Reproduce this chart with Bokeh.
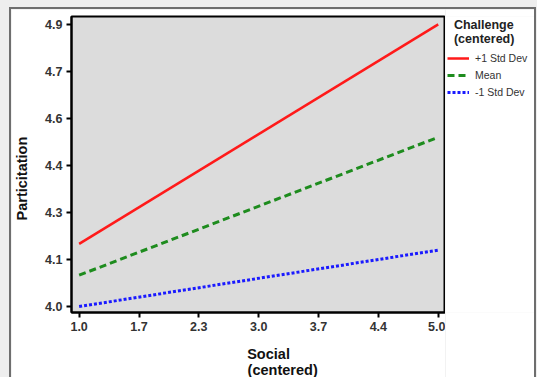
from bokeh.plotting import figure
from bokeh.models import Legend, LegendItem, FixedTicker, ColumnDataSource
from bokeh.layouts import column, row
from bokeh.embed import file_html
from bokeh.resources import INLINE

# ---- data ----
social = [1.0, 5.0]
plus1 = [4.20, 4.90]
mean = [4.10, 4.54]
minus1 = [4.00, 4.18]
series_names = ["+1 Std Dev", "Mean", "-1 Std Dev"]

x_ticks = [1.0, 1.667, 2.333, 3.0, 3.667, 4.333, 5.0]
x_tick_labels = ["1.0", "1.7", "2.3", "3.0", "3.7", "4.4", "5.0"]
y_ticks = [4.0, 4.15, 4.3, 4.45, 4.6, 4.75, 4.9]
y_tick_labels = ["4.0", "4.1", "4.3", "4.4", "4.6", "4.7", "4.9"]

FONT = "Liberation Sans"
NB = "\u00a0"
styles = [dict(line_color="#ff1a1a", line_width=2.5),
          dict(line_color="#1e8c1e", line_width=3, line_dash="7 4"),
          dict(line_color="#1a1aff", line_width=3, line_dash="3 2")]

H = 371
p = figure(width=434, height=H, output_backend="svg", toolbar_location=None,
           x_range=(0.915, 5.081), y_range=(3.981, 4.925),
           min_border_left=58, min_border_right=0, min_border_top=7, min_border_bottom=10)
p.background_fill_color = "#dcdcdc"
p.border_fill_color = "white"
p.outline_line_color = "black"
p.outline_line_width = 2
p.grid.visible = False

src = ColumnDataSource(dict(x=social, a=plus1, b=mean, c=minus1))
for col, st in zip(["a", "b", "c"], styles):
    p.line("x", col, source=src, **st)

for ax, ticks, labels in ((p.xaxis[0], x_ticks, x_tick_labels), (p.yaxis[0], y_ticks, y_tick_labels)):
    ax.ticker = FixedTicker(ticks=ticks)
    ax.major_label_overrides = {t: l for t, l in zip(ticks, labels)}
    ax.minor_tick_line_color = None
    ax.major_tick_in = 0
    ax.major_tick_out = 5
    ax.major_tick_line_width = 2
    ax.major_tick_line_color = "black"
    ax.axis_line_color = "black"
    ax.axis_line_width = 2
    ax.major_label_text_font = FONT
    ax.major_label_text_font_style = "bold"
    ax.major_label_text_font_size = "12.5px"
    ax.major_label_text_color = "#333333"
    ax.major_label_standoff = 4
    ax.axis_label_text_font = FONT
    ax.axis_label_text_font_style = "bold"
    ax.axis_label_text_font_size = "14.5px"
    ax.axis_label_text_color = "#111111"

p.yaxis.axis_label = "Particitation" + NB * 7
p.yaxis.axis_label_standoff = 12
p.xaxis.axis_label = NB * 12 + "Social" + NB * 7 + "\n" + NB * 12 + "(centered)"
p.xaxis.axis_label_standoff = 12
p.xaxis.axis_label_text_line_height = 1.0

# legend panel (lines drawn out of view; only their legend glyphs show)
q = figure(width=523 - 434, height=H, output_backend="svg", toolbar_location=None,
           min_border=0, x_range=(100, 101), y_range=(100, 101))
q.axis.visible = False
q.grid.visible = False
q.outline_line_color = None
q.background_fill_color = "white"
q.border_fill_color = "white"
rs = [q.line(social, ys, **st) for ys, st in zip([plus1, mean, minus1], styles)]

legend = Legend(items=[LegendItem(label=n, renderers=[r]) for n, r in zip(series_names, rs)],
                location="top_left")
legend.title = NB * 2 + "Challenge\n" + NB * 2 + "(centered)"
legend.title_text_font = FONT
legend.title_text_font_style = "bold"
legend.title_text_font_size = "12.5px"
legend.title_text_color = "#222222"
legend.title_standoff = 6
legend.label_text_font = FONT
legend.label_text_font_size = "10.5px"
legend.label_text_color = "#333333"
legend.border_line_color = None
legend.background_fill_alpha = 0
legend.glyph_width = 22
legend.glyph_height = 12
legend.label_height = 12
legend.label_standoff = 6
legend.spacing = 5
legend.padding = 2
legend.margin = 2
q.add_layout(legend, "center")

inner = row(p, q, width=523, height=H, styles={"outline": "2px solid #6e6e6e"})
layout = column(inner, width=537, height=H + 9,
                styles={"background-color": "#eeeeee", "padding-left": "11px", "padding-top": "9px"})

open("out.html", "w").write(file_html(layout, INLINE))
